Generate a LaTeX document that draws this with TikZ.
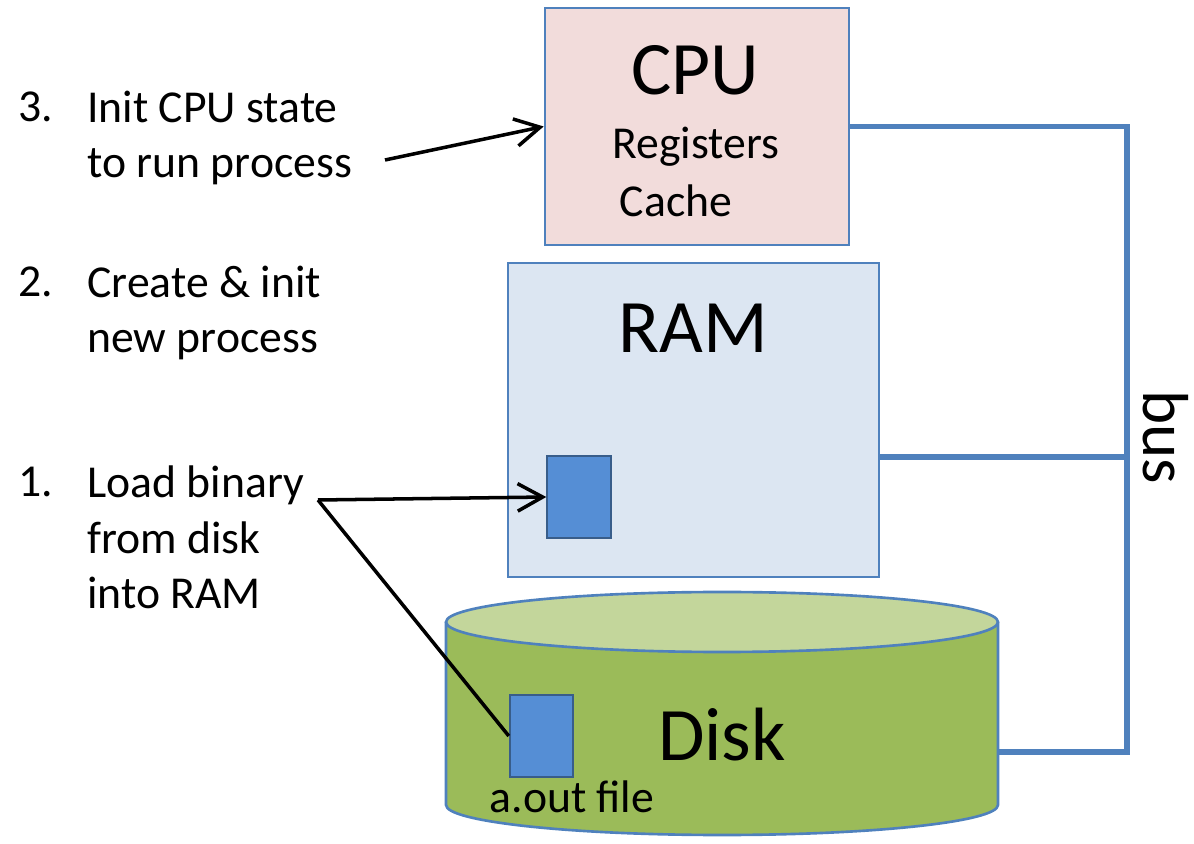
\documentclass[tikz,border=0pt]{standalone}
\usepackage{fontspec}
\setmainfont{Carlito}
\usetikzlibrary{arrows.meta,positioning}
\definecolor{edgeblue}{HTML}{4F81BD}
\definecolor{cpufill}{HTML}{F2DCDB}
\definecolor{ramfill}{HTML}{DCE6F2}
\definecolor{filefill}{HTML}{558ED5}
\definecolor{fileedge}{HTML}{385D8A}
\definecolor{diskbody}{HTML}{9BBB59}
\definecolor{disktop}{HTML}{C3D69B}

\begin{document}
\begin{tikzpicture}
	[unit/.style={rectangle,draw=edgeblue,line width=1.5pt,inner sep=0pt},
	file/.style={rectangle,draw=fileedge,fill=filefill,line width=1.1pt,inner sep=0pt,minimum width=1.27cm,minimum height=1.64cm},
	big/.style={font=\fontsize{43}{50}\selectfont,inner sep=0pt},
	small/.style={font=\fontsize{26}{31.75}\selectfont,inner sep=0pt},
	steptext/.style={small,align=left,anchor=base west},
	pointer/.style={-{Straight Barb[length=5mm,width=5.5mm]},line width=2pt},
	busline/.style={draw=edgeblue,line width=3.4pt}]
	\useasboundingbox (0,0) rectangle (23.88,16.86);
	% the three units
	\node (cpu) at (13.94,14.33) [unit,fill=cpufill,minimum width=6.08cm,minimum height=4.74cm] {};
	\node (ram) at (13.87,8.46) [unit,fill=ramfill,minimum width=7.42cm,minimum height=6.28cm] {};
	\fill[diskbody] (8.92,4.42) -- (8.92,0.76) arc[start angle=180,end angle=360,x radius=5.52,y radius=0.6] -- (19.96,4.42) -- cycle;
	\draw[edgeblue,line width=1.5pt] (8.92,4.42) -- (8.92,0.76) arc[start angle=180,end angle=360,x radius=5.52,y radius=0.6] -- (19.96,4.42);
	\draw[edgeblue,line width=1.5pt,fill=disktop] (14.44,4.42) ellipse [x radius=5.52,y radius=0.6];
	\coordinate (diskR) at (19.96,1.82);
	% texts in the units
	\node (cpulbl) at (13.90,15.46) [big] {CPU};
	\node (regs) at (13.92,13.92) [small] {Registers};
	\node (cache) at (13.52,12.84) [small] {Cache};
	\node (ramlbl) at (13.86,10.30) [big] {RAM};
	\node (disklbl) at (14.44,2.16) [big] {Disk};
	% binary file
	\node (ramfile) at (11.58,6.92) [file] {};
	\node (diskfile) at (10.83,2.14) [file] {};
	\node (aout) at (11.44,0.92) [small] {a.out file};
	% steps (base = last line)
	\node (n3) at (0.36,14.42) [steptext] {3.};
	\node (t3) at (1.74,13.30) [steptext] {Init CPU state\\to run process};
	\node (n2) at (0.36,10.92) [steptext] {2.};
	\node (t2) at (1.74,9.80) [steptext] {Create \& init\\new process};
	\node (n1) at (0.36,6.92) [steptext] {1.};
	\node (t1) at (1.74,4.68) [steptext] {Load binary\\from disk\\into RAM};
	\coordinate (p3) at (7.70,13.66);
	\coordinate (p1) at (6.36,6.86);
	\draw [pointer] (p3) -- (cpu.west);
	\draw [pointer] (p1) -- (ramfile.west);
	\draw [line width=2pt] (p1) -- (diskfile.west);
	% bus
	\coordinate (busT) at (22.54,14.33);
	\coordinate (busM) at (22.54,7.72);
	\coordinate (busB) at (22.54,1.82);
	\draw [busline] (cpu.east) -- (busT) -- (busB) -- (diskR);
	\draw [busline] (ram.east |- busM) -- (busM);
	\node (buslbl) at (23.32,8.12) [font=\fontsize{37}{44}\selectfont,inner sep=0pt,rotate=-90] {bus};
\end{tikzpicture}
\end{document}
